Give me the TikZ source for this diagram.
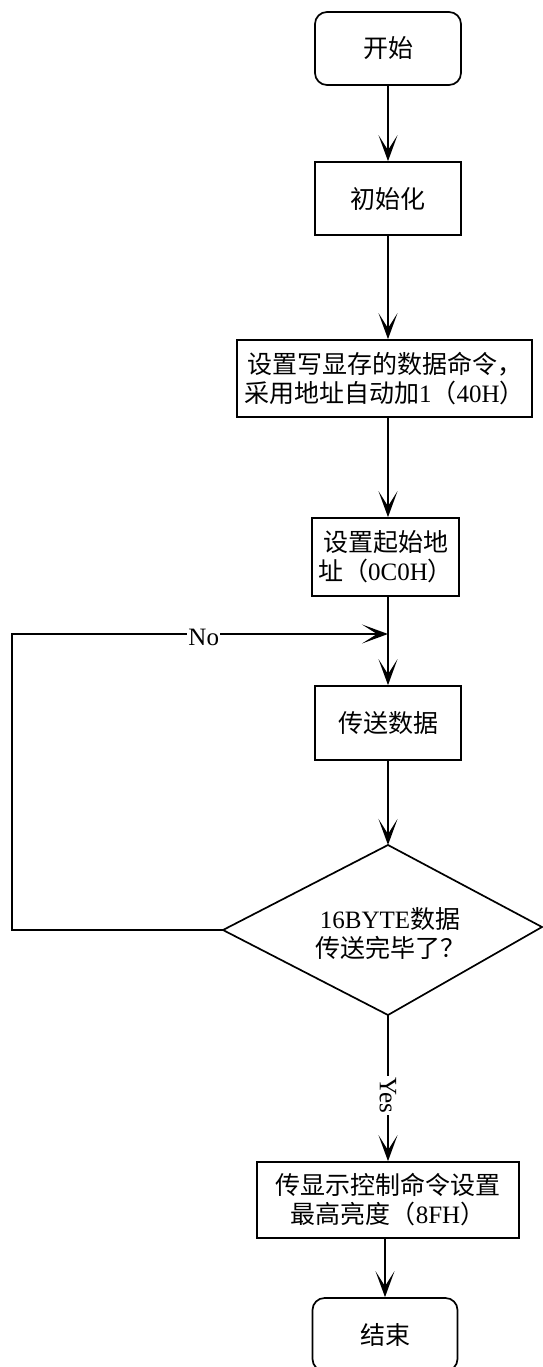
\documentclass[tikz,border=0pt]{standalone}
\usepackage{fontspec}
\setmainfont{Liberation Serif}
\newfontfamily\cjkfont{Noto Sans CJK SC}
\newcommand\zhtext[1]{{\cjkfont #1}}
\usetikzlibrary{arrows.meta}
\begin{document}
\begin{tikzpicture}[x=1pt, y=-1pt, line width=1.7pt,
  txt/.style={font=\fontsize{25}{29}\selectfont},
  box/.style={draw, txt, minimum width=146pt, minimum height=73pt, inner sep=0pt, align=center},
  term/.style={box, rounded corners=12pt},
  arr/.style={-{Stealth[length=26pt,width=19pt,inset=15pt]}},
  lbl/.style={txt, fill=white, inner xsep=1pt, inner ysep=0pt}]
\useasboundingbox (0,0) rectangle (543,1367);
\clip (0,0) rectangle (543,1367);
\coordinate (axis) at (388,0);
% nodes
\node[term] (start) at (388,48.5) {\zhtext{开始}};
\node[box] (init) at (388,198.5) {\zhtext{初始化}};
\node[box, minimum width=295pt, minimum height=77pt] (setcmd) at (384.5,378.5)
  {\zhtext{设置写显存的数据命令，}\\\zhtext{采用地址自动加}1\zhtext{（}40H\zhtext{）}};
\node[box, minimum width=147pt, minimum height=78pt] (setaddr) at (385.5,557)
  {\zhtext{设置起始地}\\\zhtext{址（}0C0H\zhtext{）}};
\node[box, minimum height=74pt] (send) at (388,723) {\zhtext{传送数据}};
\coordinate (dtop) at (388,845);
\coordinate (dright) at (542,927);
\coordinate (dbottom) at (388,1015);
\coordinate (dleft) at (223,930);
\draw (dtop) -- (dright) -- (dbottom) -- (dleft) -- cycle;
\node[txt, align=center] (decide) at (390,933) {16BYTE\zhtext{数据}\\\zhtext{传送完毕了？}};
\node[box, minimum width=262pt, minimum height=76pt] (show) at (388,1200)
  {\zhtext{传显示控制命令设置}\\\zhtext{最高亮度（}8FH\zhtext{）}};
\node[term, minimum width=145pt] (stop) at (385,1334.5) {\zhtext{结束}};
% connectors
\draw[arr] (start) -- (init);
\draw[arr] (init) -- (setcmd.north -| axis);
\draw[arr] (setcmd.south -| axis) -- (setaddr.north -| axis);
\draw[arr] (setaddr.south -| axis) -- (send.north);
\coordinate (loopin) at (388,634);
\coordinate (loopcorner) at (12,634);
\draw[arr] (dleft) -| (loopcorner) -- node[lbl, pos=0.51, yshift=-3pt] (no) {No} (loopin);
\draw[arr] (send.south) -- (dtop);
\draw[arr] (dbottom) -- node[lbl, pos=0.55, rotate=-90] (yes) {Yes} (dbottom |- show.north);
\draw[arr] (show.south -| stop) -- (stop.north);
\end{tikzpicture}
\end{document}
